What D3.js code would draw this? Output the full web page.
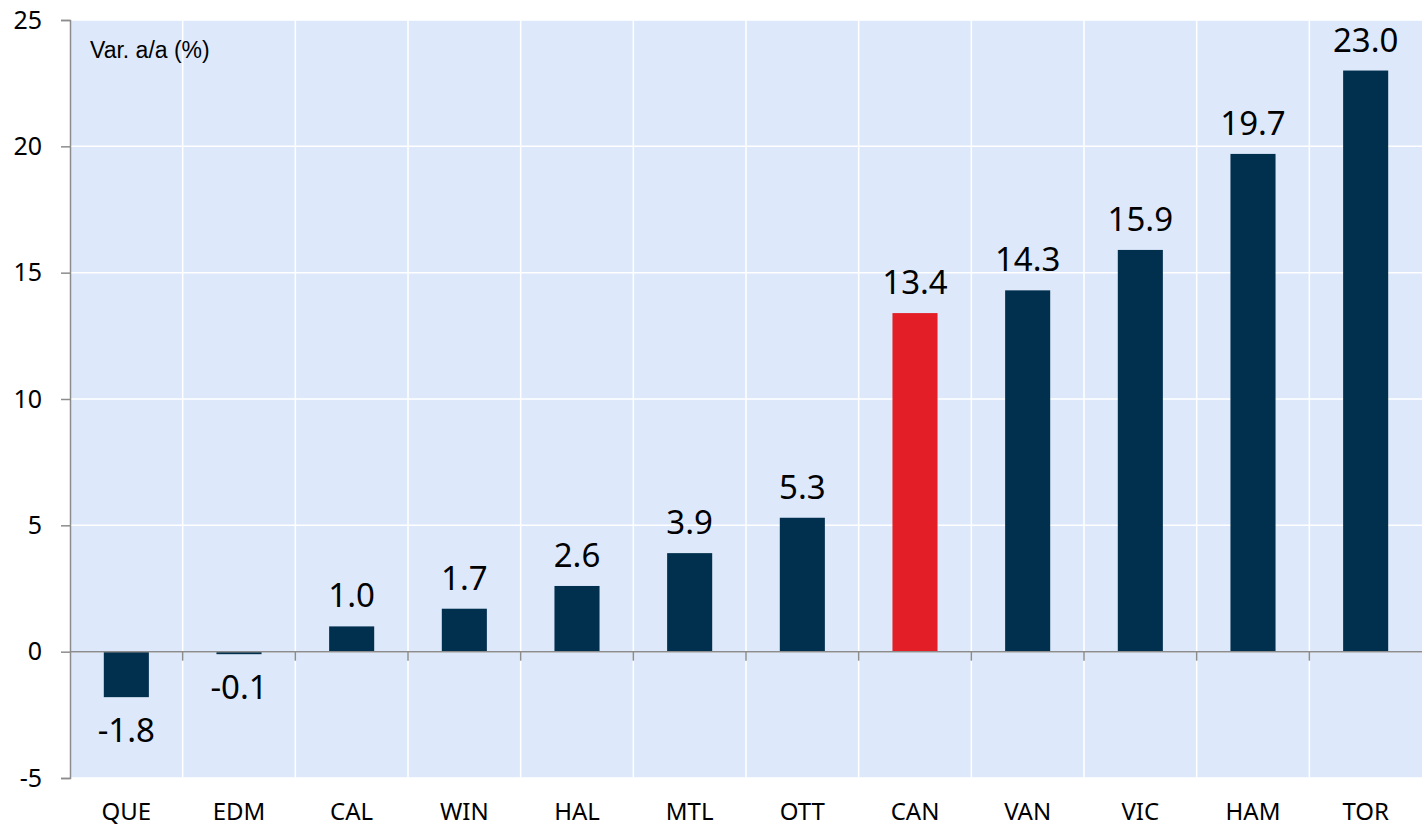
<!DOCTYPE html>
<html>
<head>
<meta charset="utf-8">
<script src="https://cdn.jsdelivr.net/npm/d3@7"></script>
<style>
  body { margin: 0; background: #fff; }
  #chart { width: 1424px; height: 830px; }
  text { font-family: "Noto Sans", sans-serif; }
</style>
</head>
<body>
<div id="chart"></div>
<script>
// Data
const cities = ["QUE", "EDM", "CAL", "WIN", "HAL", "MTL", "OTT", "CAN", "VAN", "VIC", "HAM", "TOR"];
const changes = [-1.8, -0.1, 1.0, 1.7, 2.6, 3.9, 5.3, 13.4, 14.3, 15.9, 19.7, 23.0];
const yTicks = [-5, 0, 5, 10, 15, 20, 25];
const highlight = "CAN";

let margin = { top: 20, right: 2, bottom: 52, left: 70 },
    width = 1424 - margin.left - margin.right,
    height = 830 - margin.top - margin.bottom;

let svg = d3.select("#chart").append("svg")
    .attr("width", 1424)
    .attr("height", 830)
    .append("g")
    .attr("transform", "translate(" + margin.left + "," + margin.top + ")");

let xScale = d3.scaleBand().domain(cities).range([0, width]).paddingInner(0.6).paddingOuter(0.3);
let xBand = d3.scaleBand().domain(cities).range([0, width]);
let yScale = d3.scaleLinear().domain([-5, 25]).range([height, 0]);

// plot background
svg.append("rect")
    .attr("width", width)
    .attr("height", height)
    .attr("fill", "#dde9fb");

// horizontal grid
svg.selectAll(".hgrid")
    .data(yTicks)
    .enter().append("line")
    .attr("x1", 0).attr("x2", width)
    .attr("y1", d => yScale(d)).attr("y2", d => yScale(d))
    .attr("stroke", "#fff").attr("stroke-width", 1.5);

// vertical grid between categories
svg.selectAll(".vgrid")
    .data(cities.slice(1))
    .enter().append("line")
    .attr("x1", d => xBand(d)).attr("x2", d => xBand(d))
    .attr("y1", 0).attr("y2", height)
    .attr("stroke", "#fff").attr("stroke-width", 1.5);

// bars
svg.selectAll(".bar")
    .data(cities)
    .enter().append("rect")
    .attr("x", d => xScale(d))
    .attr("width", xScale.bandwidth())
    .attr("y", (d, i) => yScale(Math.max(0, changes[i])))
    .attr("height", (d, i) => Math.abs(yScale(changes[i]) - yScale(0)))
    .attr("fill", d => d === highlight ? "#e31e26" : "#00304d");

// value labels
svg.selectAll(".val")
    .data(cities)
    .enter().append("text")
    .attr("x", d => xScale(d) + xScale.bandwidth() / 2)
    .attr("y", (d, i) => changes[i] >= 0 ? yScale(changes[i]) - 19 : yScale(changes[i]) + 45)
    .attr("text-anchor", "middle")
    .style("font-size", "33px")
    .attr("fill", "#000")
    .text((d, i) => changes[i].toFixed(1));

// zero line with category ticks
svg.append("line")
    .attr("x1", 0).attr("x2", width)
    .attr("y1", yScale(0)).attr("y2", yScale(0))
    .attr("stroke", "#8c8c8c").attr("stroke-width", 1.5);
svg.selectAll(".xtick")
    .data(cities.slice(1))
    .enter().append("line")
    .attr("x1", d => xBand(d)).attr("x2", d => xBand(d))
    .attr("y1", yScale(0)).attr("y2", yScale(0) + 9)
    .attr("stroke", "#8c8c8c").attr("stroke-width", 1.5);

// Y Axis
let yAxis = svg.append("g")
    .call(d3.axisLeft(yScale).tickValues(yTicks).tickSize(9).tickPadding(19).tickFormat(d => String(d)));
yAxis.select(".domain").attr("stroke", "#8c8c8c").attr("stroke-width", 1.5);
yAxis.selectAll(".tick line").attr("stroke", "#8c8c8c").attr("stroke-width", 1.5);
yAxis.selectAll(".tick text")
    .style("font-family", "'Noto Sans', sans-serif")
    .style("font-size", "25px")
    .attr("fill", "#000");

// X labels
svg.selectAll(".xlab")
    .data(cities)
    .enter().append("text")
    .attr("x", d => xBand(d) + xBand.bandwidth() / 2)
    .attr("y", height + 42)
    .attr("text-anchor", "middle")
    .style("font-size", "24px")
    .attr("fill", "#000")
    .text(d => d);

// unit label
svg.append("text")
    .attr("x", 20)
    .attr("y", 38)
    .style("font-family", "'Liberation Sans', Arial, sans-serif")
    .style("font-size", "23px")
    .attr("fill", "#000")
    .text("Var. a/a (%)");
</script>
</body>
</html>
